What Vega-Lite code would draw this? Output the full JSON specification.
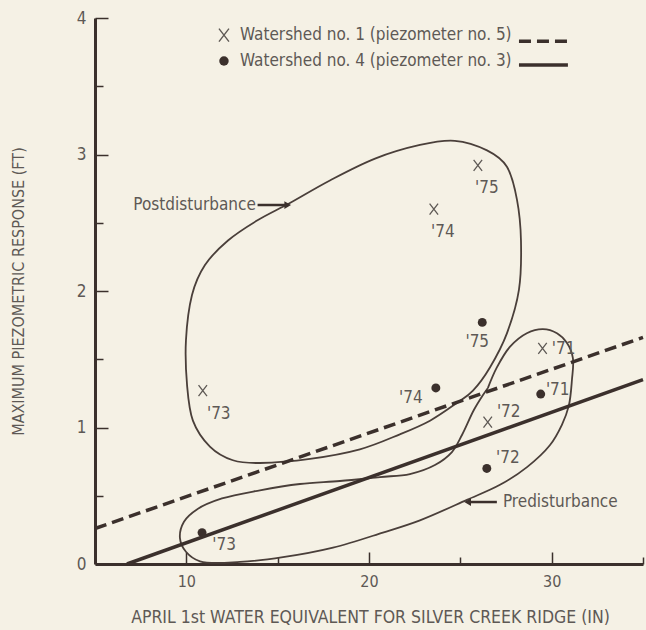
{
  "$schema": "https://vega.github.io/schema/vega-lite/v6.json",
  "width": 548,
  "height": 546,
  "autosize": {"type": "none"},
  "padding": {"left": 95, "top": 18, "right": 3, "bottom": 66},
  "background": "#f5f1e5",
  "config": {
    "font": "Liberation Sans Narrow, DejaVu Sans Condensed, sans-serif",
    "view": {"stroke": null},
    "text": {"font": "Liberation Sans Narrow, DejaVu Sans Condensed, sans-serif", "color": "#5e5955"}
  },
  "datasets": {
    "points": [
      {"id": "w1-75", "series": "Watershed no. 1", "label": "'75", "x": 25.96, "y": 2.92},
      {"id": "w1-74", "series": "Watershed no. 1", "label": "'74", "x": 23.55, "y": 2.6},
      {"id": "w1-73", "series": "Watershed no. 1", "label": "'73", "x": 10.9, "y": 1.27},
      {"id": "w1-71", "series": "Watershed no. 1", "label": "'71", "x": 29.5, "y": 1.58},
      {"id": "w1-72", "series": "Watershed no. 1", "label": "'72", "x": 26.5, "y": 1.04},
      {"id": "w4-75", "series": "Watershed no. 4", "label": "'75", "x": 26.2, "y": 1.77},
      {"id": "w4-74", "series": "Watershed no. 4", "label": "'74", "x": 23.66, "y": 1.29},
      {"id": "w4-71", "series": "Watershed no. 4", "label": "'71", "x": 29.4, "y": 1.245},
      {"id": "w4-72", "series": "Watershed no. 4", "label": "'72", "x": 26.45, "y": 0.7},
      {"id": "w4-73", "series": "Watershed no. 4", "label": "'73", "x": 10.86, "y": 0.23}
    ],
    "trend": [
      {"series": "Watershed no. 1", "x": 5, "y": 0.26},
      {"series": "Watershed no. 1", "x": 35, "y": 1.66},
      {"series": "Watershed no. 4", "x": 6.75, "y": 0},
      {"series": "Watershed no. 4", "x": 35, "y": 1.35}
    ],
    "post": [
      {"order": 1, "x": 14.03, "y": 0.74},
      {"order": 2, "x": 12.55, "y": 0.76},
      {"order": 3, "x": 11.29, "y": 0.86},
      {"order": 4, "x": 10.36, "y": 1.05},
      {"order": 5, "x": 10.04, "y": 1.31},
      {"order": 6, "x": 9.98, "y": 1.64},
      {"order": 7, "x": 10.31, "y": 1.97},
      {"order": 8, "x": 11.02, "y": 2.19},
      {"order": 9, "x": 12.28, "y": 2.37},
      {"order": 10, "x": 13.92, "y": 2.52},
      {"order": 11, "x": 15.67, "y": 2.645},
      {"order": 12, "x": 17.86, "y": 2.81},
      {"order": 13, "x": 20.33, "y": 2.97},
      {"order": 14, "x": 22.79, "y": 3.07},
      {"order": 15, "x": 24.7, "y": 3.1},
      {"order": 16, "x": 26.46, "y": 3.03},
      {"order": 17, "x": 27.55, "y": 2.91},
      {"order": 18, "x": 28.1, "y": 2.67},
      {"order": 19, "x": 28.32, "y": 2.37},
      {"order": 20, "x": 28.21, "y": 2.01},
      {"order": 21, "x": 27.55, "y": 1.69},
      {"order": 22, "x": 26.62, "y": 1.44},
      {"order": 23, "x": 25.69, "y": 1.27},
      {"order": 24, "x": 24.81, "y": 1.18},
      {"order": 25, "x": 23.34, "y": 1.05},
      {"order": 26, "x": 21.69, "y": 0.95},
      {"order": 27, "x": 19.5, "y": 0.84},
      {"order": 28, "x": 16.77, "y": 0.77}
    ],
    "pre": [
      {"order": 1, "x": 26.51, "y": 1.29},
      {"order": 2, "x": 27.0, "y": 1.44},
      {"order": 3, "x": 27.71, "y": 1.59},
      {"order": 4, "x": 28.64, "y": 1.69},
      {"order": 5, "x": 29.52, "y": 1.72},
      {"order": 6, "x": 30.29, "y": 1.69},
      {"order": 7, "x": 30.83, "y": 1.62},
      {"order": 8, "x": 31.16, "y": 1.51},
      {"order": 9, "x": 31.11, "y": 1.35},
      {"order": 10, "x": 30.94, "y": 1.16},
      {"order": 11, "x": 30.56, "y": 1.02},
      {"order": 12, "x": 29.9, "y": 0.87},
      {"order": 13, "x": 28.65, "y": 0.71},
      {"order": 14, "x": 27.17, "y": 0.58},
      {"order": 15, "x": 25.36, "y": 0.47},
      {"order": 16, "x": 22.79, "y": 0.32},
      {"order": 17, "x": 20.76, "y": 0.23},
      {"order": 18, "x": 18.03, "y": 0.12},
      {"order": 19, "x": 15.29, "y": 0.05},
      {"order": 20, "x": 12.94, "y": 0.015},
      {"order": 21, "x": 10.75, "y": 0.02},
      {"order": 22, "x": 9.98, "y": 0.09},
      {"order": 23, "x": 9.65, "y": 0.19},
      {"order": 24, "x": 9.87, "y": 0.31},
      {"order": 25, "x": 10.58, "y": 0.4},
      {"order": 26, "x": 11.95, "y": 0.48},
      {"order": 27, "x": 14.03, "y": 0.54},
      {"order": 28, "x": 16.22, "y": 0.586},
      {"order": 29, "x": 18.41, "y": 0.608},
      {"order": 30, "x": 20.6, "y": 0.637},
      {"order": 31, "x": 22.24, "y": 0.659},
      {"order": 32, "x": 23.61, "y": 0.725},
      {"order": 33, "x": 24.54, "y": 0.82},
      {"order": 34, "x": 25.09, "y": 0.945},
      {"order": 35, "x": 25.74, "y": 1.128},
      {"order": 36, "x": 26.24, "y": 1.238},
      {"order": 37, "x": 26.51, "y": 1.29}
    ],
    "legendText": [
      {"text": "Watershed no. 1 (piezometer no. 5)", "x": 12.94, "y": 3.875},
      {"text": "Watershed no. 4 (piezometer no. 3)", "x": 12.94, "y": 3.685}
    ],
    "legendLines": [
      {"series": "Watershed no. 1", "x": 28.21, "x2": 30.89, "y": 3.83},
      {"series": "Watershed no. 4", "x": 28.21, "x2": 30.89, "y": 3.655}
    ],
    "legendMarks": [
      {"series": "Watershed no. 1", "x": 12.06, "y": 3.875},
      {"series": "Watershed no. 4", "x": 12.06, "y": 3.685}
    ],
    "notes": [
      {"text": "Postdisturbance", "x": 7.1, "y": 2.63},
      {"text": "Predisturbance", "x": 27.33, "y": 0.454}
    ],
    "arrows": [
      {"name": "Postdisturbance", "x": 13.9, "x2": 15.55, "y": 2.63},
      {"name": "Predisturbance", "x": 25.4, "x2": 27.0, "y": 0.454}
    ]
  },
  "encoding": {
    "x": {
      "field": "x", "type": "quantitative",
      "scale": {"domain": [5, 35], "nice": false, "zero": false},
      "axis": {
        "title": "APRIL 1st WATER EQUIVALENT FOR SILVER CREEK RIDGE (IN)",
        "values": [10, 15, 20, 25, 30, 35],
        "labelExpr": "datum.value % 10 === 0 ? '' + datum.value : ''",
        "tickSize": {"condition": {"test": "datum.value % 10 === 0", "value": -12}, "value": -7},
        "labelPadding": {"condition": {"test": "datum.value % 10 === 0", "value": 21}, "value": 8},
        "tickWidth": 1.5, "tickColor": "#3b302c",
        "domainWidth": 3, "domainColor": "#3b302c",
        "grid": false,
        "labelFontSize": 16, "labelColor": "#5e5955",
        "labelFont": "Liberation Sans Narrow, DejaVu Sans Condensed, sans-serif",
        "titleFont": "Liberation Sans Narrow, DejaVu Sans Condensed, sans-serif",
        "titleFontSize": 17.5, "titleFontWeight": "normal", "titleColor": "#5e5955",
        "titleX": 275, "titleY": 53, "titleAlign": "center", "titleBaseline": "middle"
      }
    },
    "y": {
      "field": "y", "type": "quantitative",
      "scale": {"domain": [0, 4], "nice": false},
      "axis": {
        "title": "MAXIMUM PIEZOMETRIC RESPONSE (FT)",
        "values": [0, 0.5, 1, 1.5, 2, 2.5, 3, 3.5, 4],
        "labelExpr": "datum.value % 1 === 0 ? '' + datum.value : ''",
        "tickSize": {"condition": {"test": "datum.value % 1 === 0", "value": -13}, "value": -8},
        "labelPadding": {"condition": {"test": "datum.value % 1 === 0", "value": 22}, "value": 8},
        "tickWidth": 1.5, "tickColor": "#3b302c",
        "domainWidth": 3, "domainColor": "#3b302c",
        "grid": false,
        "labelFontSize": 17, "labelColor": "#5e5955",
        "labelFont": "Liberation Sans Narrow, DejaVu Sans Condensed, sans-serif",
        "titleFont": "Liberation Sans Narrow, DejaVu Sans Condensed, sans-serif",
        "titleFontSize": 16, "titleFontWeight": "normal", "titleColor": "#5e5955",
        "titleX": -77, "titleY": 273, "titleAngle": 270, "titleAlign": "center", "titleBaseline": "middle"
      }
    }
  },
  "layer": [
    {
      "data": {"name": "post"},
      "mark": {"type": "line", "interpolate": "cardinal-closed", "stroke": "#4a3f3a", "strokeWidth": 1.8},
      "encoding": {"order": {"field": "order", "type": "quantitative"}}
    },
    {
      "data": {"name": "pre"},
      "mark": {"type": "line", "interpolate": "catmull-rom", "stroke": "#4a3f3a", "strokeWidth": 1.8},
      "encoding": {"order": {"field": "order", "type": "quantitative"}}
    },
    {
      "data": {"name": "trend"},
      "transform": [{"filter": "datum.series === 'Watershed no. 1'"}],
      "mark": {"type": "line", "stroke": "#3b302c", "strokeWidth": 3.5, "strokeDash": [12, 6]},
      "encoding": {}
    },
    {
      "data": {"name": "trend"},
      "transform": [{"filter": "datum.series === 'Watershed no. 4'"}],
      "mark": {"type": "line", "stroke": "#3b302c", "strokeWidth": 3.5},
      "encoding": {}
    },
    {
      "data": {"name": "points"},
      "transform": [{"filter": "datum.series === 'Watershed no. 1'"}],
      "mark": {"type": "point", "shape": "M-1,-1.3L1,1.3M1,-1.3L-1,1.3", "size": 72, "filled": false, "stroke": "#5e5955", "strokeWidth": 1.3, "opacity": 1}
    },
    {
      "data": {"name": "points"},
      "transform": [{"filter": "datum.series === 'Watershed no. 4'"}],
      "mark": {"type": "point", "shape": "circle", "size": 80, "filled": true, "fill": "#3b302c", "opacity": 1}
    },
    {
      "data": {"name": "points"},
      "transform": [{"filter": {"field": "id", "oneOf": ["w1-75", "w1-74"]}}],
      "mark": {"type": "text", "fontSize": 17, "dx": 9, "dy": 23, "align": "center", "baseline": "middle"},
      "encoding": {"text": {"field": "label"}}
    },
    {
      "data": {"name": "points"},
      "transform": [{"filter": {"field": "id", "oneOf": ["w1-73"]}}],
      "mark": {"type": "text", "fontSize": 17, "dx": 16, "dy": 23, "align": "center", "baseline": "middle"},
      "encoding": {"text": {"field": "label"}}
    },
    {
      "data": {"name": "points"},
      "transform": [{"filter": {"field": "id", "oneOf": ["w4-75"]}}],
      "mark": {"type": "text", "fontSize": 17, "dx": -5, "dy": 20, "align": "center", "baseline": "middle"},
      "encoding": {"text": {"field": "label"}}
    },
    {
      "data": {"name": "points"},
      "transform": [{"filter": {"field": "id", "oneOf": ["w4-74"]}}],
      "mark": {"type": "text", "fontSize": 17, "dx": -25, "dy": 10, "align": "center", "baseline": "middle"},
      "encoding": {"text": {"field": "label"}}
    },
    {
      "data": {"name": "points"},
      "transform": [{"filter": {"field": "id", "oneOf": ["w4-71"]}}],
      "mark": {"type": "text", "fontSize": 17, "dx": 17, "dy": -4, "align": "center", "baseline": "middle"},
      "encoding": {"text": {"field": "label"}}
    },
    {
      "data": {"name": "points"},
      "transform": [{"filter": {"field": "id", "oneOf": ["w1-71"]}}],
      "mark": {"type": "text", "fontSize": 17, "dx": 21, "dy": 1, "align": "center", "baseline": "middle"},
      "encoding": {"text": {"field": "label"}}
    },
    {
      "data": {"name": "points"},
      "transform": [{"filter": {"field": "id", "oneOf": ["w1-72", "w4-72"]}}],
      "mark": {"type": "text", "fontSize": 17, "dx": 21, "dy": -10, "align": "center", "baseline": "middle"},
      "encoding": {"text": {"field": "label"}}
    },
    {
      "data": {"name": "points"},
      "transform": [{"filter": {"field": "id", "oneOf": ["w4-73"]}}],
      "mark": {"type": "text", "fontSize": 17, "dx": 22, "dy": 12, "align": "center", "baseline": "middle"},
      "encoding": {"text": {"field": "label"}}
    },
    {
      "data": {"name": "legendText"},
      "mark": {"type": "text", "fontSize": 17, "align": "left", "baseline": "middle"},
      "encoding": {"text": {"field": "text"}}
    },
    {
      "data": {"name": "legendMarks"},
      "transform": [{"filter": "datum.series === 'Watershed no. 1'"}],
      "mark": {"type": "point", "shape": "M-1,-1.3L1,1.3M1,-1.3L-1,1.3", "size": 100, "filled": false, "stroke": "#5e5955", "strokeWidth": 1.4, "opacity": 1}
    },
    {
      "data": {"name": "legendMarks"},
      "transform": [{"filter": "datum.series === 'Watershed no. 4'"}],
      "mark": {"type": "point", "shape": "circle", "size": 90, "filled": true, "fill": "#3b302c", "opacity": 1}
    },
    {
      "data": {"name": "legendLines"},
      "transform": [{"filter": "datum.series === 'Watershed no. 1'"}],
      "mark": {"type": "rule", "stroke": "#3b302c", "strokeWidth": 3.5, "strokeDash": [12, 6]},
      "encoding": {"x2": {"field": "x2"}}
    },
    {
      "data": {"name": "legendLines"},
      "transform": [{"filter": "datum.series === 'Watershed no. 4'"}],
      "mark": {"type": "rule", "stroke": "#3b302c", "strokeWidth": 3.5},
      "encoding": {"x2": {"field": "x2"}}
    },
    {
      "data": {"name": "notes"},
      "mark": {"type": "text", "fontSize": 17, "align": "left", "baseline": "middle"},
      "encoding": {"text": {"field": "text"}}
    },
    {
      "data": {"name": "arrows"},
      "mark": {"type": "rule", "stroke": "#3b302c", "strokeWidth": 2.5},
      "encoding": {"x2": {"field": "x2"}}
    },
    {
      "data": {"name": "arrows"},
      "transform": [{"filter": "datum.name === 'Postdisturbance'"}],
      "mark": {"type": "point", "shape": "triangle-right", "size": 60, "filled": true, "fill": "#3b302c", "opacity": 1},
      "encoding": {"x": {"field": "x2", "type": "quantitative"}}
    },
    {
      "data": {"name": "arrows"},
      "transform": [{"filter": "datum.name === 'Predisturbance'"}],
      "mark": {"type": "point", "shape": "triangle-left", "size": 60, "filled": true, "fill": "#3b302c", "opacity": 1}
    }
  ]
}
